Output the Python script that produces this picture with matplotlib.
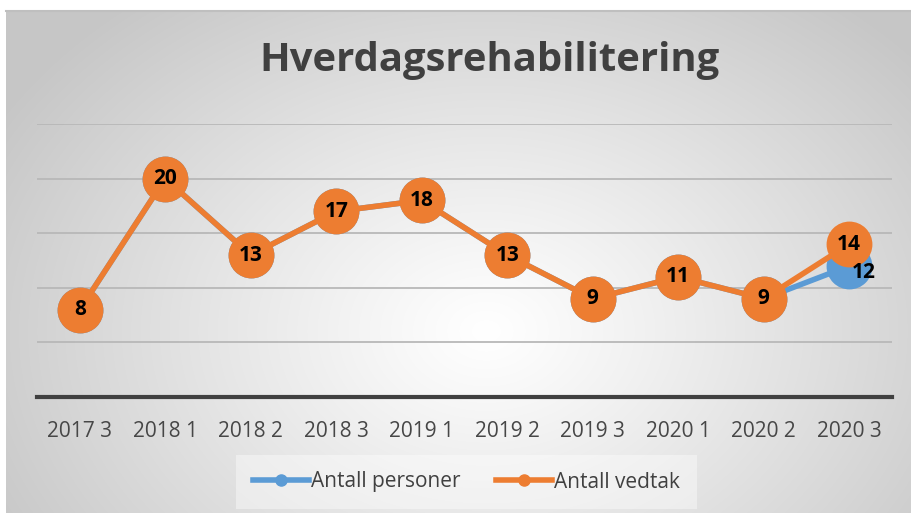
import numpy as np
import matplotlib.pyplot as plt
from matplotlib.lines import Line2D

# data
categories = ["2017 3", "2018 1", "2018 2", "2018 3", "2019 1",
              "2019 2", "2019 3", "2020 1", "2020 2", "2020 3"]
antall_personer = [8, 20, 13, 17, 18, 13, 9, 11, 9, 12]
antall_vedtak = [8, 20, 13, 17, 18, 13, 9, 11, 9, 14]

BLUE = "#5b9bd5"
ORANGE = "#ed7d31"
FONT = ["Open Sans", "DejaVu Sans"]

W, H = 911, 513
fig = plt.figure(figsize=(W / 100, H / 100), dpi=100)
fig.patch.set_facecolor("white")

# radial gradient background for the chart area
bg = fig.add_axes([6 / W, 0, 1 - 6 / W, 1 - 11 / H])
bg.set_axis_off()
yy, xx = np.mgrid[0:502, 0:905]
cx, cy = 480, 320
r = np.sqrt(((xx - cx) / 1.0) ** 2 + ((yy - cy) / 0.75) ** 2)
r = np.clip(r / 560, 0, 1)
grey = 1.0 - 0.22 * r ** 1.1
img = np.dstack([grey, grey, grey])
bg.imshow(img, aspect="auto", extent=[0, 1, 0, 1], origin="upper")
bg.set_xlim(0, 1)
bg.set_ylim(0, 1)
fig.add_artist(Line2D([6 / W, 1], [1 - 11 / H, 1 - 11 / H], color="#bfbfbf", lw=1.5))

ax = fig.add_axes([37 / W, 1 - 397 / H, (892 - 37) / W, (397 - 124) / H])
ax.patch.set_alpha(0)
x = np.arange(len(categories))
ax.set_xlim(-0.5, len(categories) - 0.5)
ax.set_ylim(0, 25)

for v in [5, 10, 15, 20, 25]:
    ax.axhline(v, color="#b8b8b8", lw=1.3, zorder=1)
ax.axhline(0, color="#404040", lw=3, zorder=2, clip_on=False)

for s in ax.spines.values():
    s.set_visible(False)
ax.set_yticks([])
ax.set_xticks(x)
ax.set_xticklabels(categories, family=FONT, fontsize=15, color="#474747")
ax.tick_params(axis="x", length=0, pad=17.5)

ax.plot(x, antall_personer, color=BLUE, lw=4, marker="o", ms=33,
        markeredgewidth=0, zorder=3, solid_capstyle="round")
ax.plot(x, antall_vedtak, color=ORANGE, lw=4, marker="o", ms=33,
        markeredgewidth=0, zorder=4, solid_capstyle="round")

for xi, v in zip(x, antall_vedtak):
    ax.text(xi, v, str(v), ha="center", va="center", fontsize=15,
            fontweight="bold", family=FONT, color="black", zorder=6)
ax.annotate(str(antall_personer[-1]), (x[-1], antall_personer[-1]),
            xytext=(14, -7), textcoords="offset pixels", ha="center",
            va="center", fontsize=15, fontweight="bold", family=FONT,
            color="black", zorder=5)

fig.text(0.537, 1 - 60 / H, "Hverdagsrehabilitering", ha="center", va="center",
         fontsize=28.8, fontweight="bold", family=FONT, color="#404040")

handles = [Line2D([], [], color=BLUE, lw=4, marker="o", ms=8),
           Line2D([], [], color=ORANGE, lw=4, marker="o", ms=8)]
leg = fig.legend(handles, ["Antall personer", "Antall vedtak"],
                 loc="center", bbox_to_anchor=(0.512, 1 - 482 / H), ncol=2,
                 frameon=True, handlelength=2.7, borderpad=0.3,
                 handletextpad=0.1, columnspacing=1.7,
                 prop={"family": FONT, "size": 15})
leg.get_frame().set_facecolor("white")
leg.get_frame().set_alpha(0.4)
leg.get_frame().set_edgecolor("none")
leg.get_frame().set_boxstyle("square", pad=0.5)
for t in leg.get_texts():
    t.set_color("#404040")

fig.savefig("out.png", dpi=100)
